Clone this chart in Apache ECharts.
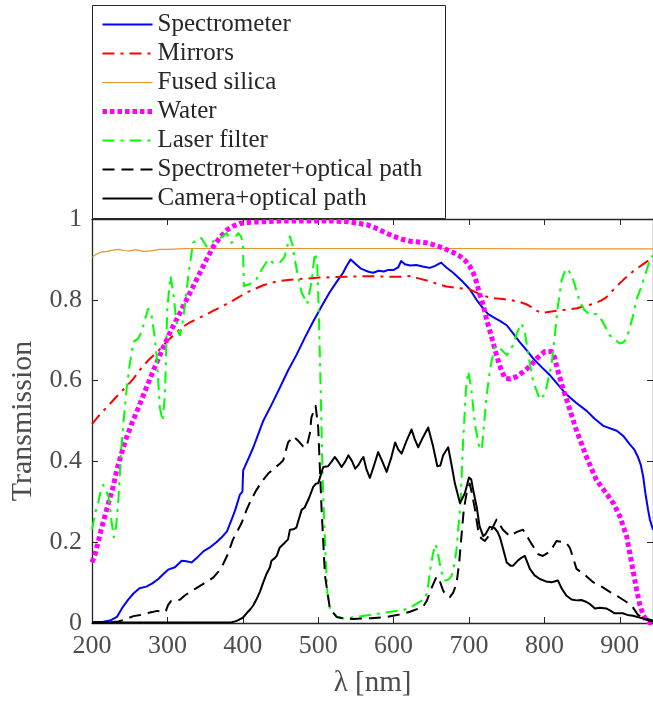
<!DOCTYPE html>
<html>
<head>
<meta charset="utf-8">
<script src="https://cdn.jsdelivr.net/npm/echarts@6/dist/echarts.min.js"></script>
<style>
html,body{margin:0;padding:0;background:#fff;}
#chart{width:653px;height:703px;}
</style>
</head>
<body>
<div id="chart"></div>
<script>
// ---- data (wavelength nm, transmission) ----
const seriesNames = ['Spectrometer','Mirrors','Fused silica','Water','Laser filter','Spectrometer+optical path','Camera+optical path'];
const xTickValues = [200,300,400,500,600,700,800,900];
const yTickValues = [0,0.2,0.4,0.6,0.8,1];

const spectrometer = [[200,0.002],[215,0.003],[224,0.006],[233,0.015],[241,0.04],[248,0.058],[255,0.073],[263,0.086],[272,0.09],[280,0.098],[288,0.109],[295,0.122],[301,0.132],[310,0.138],[319,0.154],[325,0.153],[332,0.150],[340,0.163],[348,0.178],[357,0.188],[365,0.200],[372,0.212],[379,0.227],[385,0.255],[390,0.28],[396,0.317],[399.5,0.325],[400.5,0.378],[407,0.405],[414,0.435],[422,0.475],[427,0.50],[438,0.54],[449,0.582],[460,0.625],[471,0.663],[482,0.705],[493,0.745],[504,0.782],[515,0.818],[524,0.843],[533,0.867],[538,0.885],[543,0.900],[550,0.888],[556,0.878],[563,0.872],[568,0.869],[573,0.867],[580,0.872],[587,0.870],[593,0.874],[600,0.874],[606,0.880],[610,0.896],[615,0.888],[622,0.885],[630,0.886],[640,0.882],[648,0.879],[655,0.884],[663,0.892],[670,0.880],[679,0.867],[690,0.848],[701,0.826],[710,0.80],[719,0.778],[725,0.765],[732,0.757],[741,0.748],[750,0.737],[758,0.718],[767,0.696],[776,0.676],[785,0.655],[796,0.634],[807,0.614],[818,0.59],[829,0.566],[842,0.545],[856,0.525],[867,0.505],[878,0.488],[896,0.476],[905,0.462],[913,0.443],[919,0.43],[924,0.411],[928,0.39],[931,0.362],[934,0.32],[937.5,0.28],[940,0.255],[944,0.231]];

const mirrors = [[200,0.492],[210,0.515],[220,0.535],[230,0.555],[240,0.575],[246,0.586],[255,0.605],[265,0.63],[275,0.651],[287,0.672],[299,0.696],[308,0.712],[317,0.729],[328,0.742],[339,0.753],[350,0.762],[361,0.773],[372,0.783],[383,0.794],[394,0.806],[405,0.818],[416,0.827],[427,0.836],[438,0.842],[449,0.847],[460,0.849],[471,0.851],[487,0.853],[502,0.855],[520,0.856],[538,0.857],[555,0.858],[575,0.858],[599,0.857],[610,0.857],[622,0.859],[633,0.853],[644,0.848],[657,0.84],[670,0.833],[685,0.829],[701,0.826],[712,0.816],[723,0.808],[734,0.804],[745,0.802],[756,0.799],[767,0.795],[776,0.789],[785,0.78],[791,0.772],[796,0.767],[805,0.77],[820,0.774],[835,0.777],[843,0.779],[855,0.785],[865,0.790],[875,0.798],[882,0.806],[890,0.822],[896,0.834],[905,0.85],[918,0.871],[930,0.887],[940,0.900],[944,0.904]];

const fusedSilica = [[200,0.905],[205,0.912],[212,0.918],[220,0.92],[228,0.923],[235,0.925],[242,0.922],[250,0.921],[258,0.924],[268,0.92],[278,0.921],[290,0.925],[300,0.925],[315,0.926],[330,0.927],[360,0.927],[400,0.927],[500,0.927],[600,0.927],[700,0.927],[800,0.926],[900,0.926],[944,0.926]];

const water = [[200,0.15],[204,0.17],[208,0.199],[212,0.23],[217,0.264],[222,0.298],[228,0.337],[233,0.38],[239,0.419],[245,0.455],[252,0.49],[262,0.535],[272,0.582],[283,0.632],[294,0.68],[305,0.725],[317,0.769],[328,0.81],[339,0.851],[350,0.893],[361,0.932],[370,0.955],[379,0.973],[388,0.983],[396,0.989],[410,0.992],[427,0.993],[450,0.995],[471,0.995],[500,0.995],[520,0.995],[540,0.993],[555,0.989],[566,0.985],[577,0.977],[588,0.967],[600,0.957],[611,0.95],[622,0.945],[633,0.943],[644,0.941],[655,0.935],[666,0.928],[677,0.919],[688,0.908],[695,0.897],[701,0.883],[706,0.865],[710,0.843],[714,0.815],[719,0.786],[723,0.753],[728,0.721],[734,0.68],[740,0.64],[747.5,0.606],[755,0.604],[763,0.61],[772,0.622],[780.6,0.635],[790,0.655],[800.5,0.672],[809.5,0.672],[813,0.66],[818,0.623],[824,0.585],[831.5,0.541],[842.6,0.476],[855.8,0.411],[869,0.354],[882,0.321],[892,0.295],[900,0.264],[909,0.215],[915.5,0.150],[922,0.085],[926.5,0.045],[931,0.02],[935,0.007],[940,0.0],[944,0.0]];

const laserFilter = [[200,0.231],[204,0.27],[208,0.297],[212,0.33],[215,0.342],[218,0.33],[222,0.313],[226,0.25],[229,0.212],[232,0.24],[235,0.305],[239,0.435],[241.5,0.492],[246,0.58],[250,0.64],[255,0.696],[261,0.704],[266,0.721],[270,0.75],[274.6,0.778],[279,0.761],[283,0.71],[286,0.655],[290,0.533],[293.7,0.50],[296.8,0.566],[299.8,0.778],[304,0.859],[307.8,0.818],[311,0.76],[314.4,0.721],[316.7,0.712],[321,0.753],[327.7,0.859],[334,0.941],[340,0.95],[345,0.953],[352,0.932],[361,0.945],[370,0.953],[378.6,0.965],[385,0.941],[390,0.955],[394,0.965],[398,0.955],[400,0.94],[401.5,0.834],[409.5,0.839],[418,0.851],[425,0.875],[433.7,0.900],[440,0.892],[449,0.892],[455,0.905],[458,0.924],[462.5,0.957],[466,0.935],[469,0.900],[474,0.85],[478,0.818],[485.5,0.790],[491,0.843],[495.6,0.916],[498.7,0.892],[501,0.753],[503,0.598],[505.8,0.362],[509,0.199],[512,0.077],[515,0.04],[518,0.028],[525,0.015],[533,0.011],[550,0.015],[568.5,0.020],[590,0.026],[612.7,0.032],[622,0.038],[630.5,0.048],[641.5,0.060],[645,0.08],[648,0.125],[652,0.17],[655.6,0.195],[658,0.18],[661,0.150],[665,0.115],[668,0.105],[673,0.108],[677,0.117],[681,0.15],[683.5,0.183],[686,0.24],[688.8,0.297],[692,0.443],[696,0.58],[699,0.623],[703,0.58],[708,0.49],[714,0.431],[717,0.43],[723,0.557],[728,0.63],[734,0.684],[741,0.68],[750,0.663],[758.5,0.688],[764,0.72],[769.6,0.741],[774,0.72],[779,0.66],[785,0.598],[794,0.553],[800.5,0.566],[809.5,0.639],[818,0.786],[823,0.85],[828.4,0.877],[833,0.87],[838,0.851],[847,0.795],[853,0.775],[860,0.763],[869,0.765],[876,0.75],[886.7,0.712],[900,0.692],[905,0.695],[909,0.704],[913,0.73],[917.6,0.761],[922,0.80],[928.8,0.834],[935,0.87],[940,0.900],[944,0.91]];

const specOptical = [[200,0.0],[215,0.001],[226,0.002],[235,0.004],[241.5,0.007],[248,0.012],[255,0.017],[264,0.02],[272.6,0.024],[280,0.027],[286,0.03],[290,0.029],[294.5,0.026],[298,0.03],[301,0.045],[305,0.055],[312,0.056],[317,0.058],[323,0.068],[330,0.077],[339,0.087],[347.6,0.097],[355,0.105],[361,0.113],[368,0.128],[374,0.146],[380,0.17],[387,0.207],[393,0.228],[398.5,0.248],[405,0.280],[411,0.305],[418,0.329],[426,0.352],[433.7,0.370],[441,0.382],[449,0.394],[453.6,0.403],[460,0.447],[467,0.462],[473,0.452],[480,0.437],[484.6,0.435],[489,0.47],[491,0.509],[496.6,0.537],[500,0.484],[504.5,0.280],[509,0.117],[515.5,0.036],[524.4,0.015],[535,0.011],[546,0.010],[570,0.012],[590.7,0.015],[610,0.022],[621.6,0.028],[632,0.035],[639,0.040],[644,0.055],[650,0.085],[657,0.115],[661,0.105],[665.7,0.08],[670,0.068],[674.6,0.064],[679,0.075],[683.5,0.098],[687,0.15],[690,0.215],[693,0.28],[696.8,0.321],[701,0.345],[704,0.32],[708,0.28],[712,0.231],[716,0.21],[721,0.203],[726,0.215],[730,0.231],[736.5,0.256],[741,0.243],[745,0.231],[754,0.215],[763,0.225],[771.6,0.231],[776,0.218],[780.6,0.203],[791.7,0.170],[798,0.166],[805,0.174],[809.5,0.183],[816,0.203],[829,0.199],[834,0.185],[842.6,0.134],[853,0.12],[864.6,0.101],[876,0.09],[886.7,0.077],[898,0.065],[909,0.052],[917.6,0.038],[924,0.020],[931,0.013],[942,0.007],[944,0.005]];

const cameraOptical = [[200,0.001],[300,0.001],[385,0.002],[390,0.004],[394,0.007],[400,0.013],[405,0.024],[410,0.034],[414,0.044],[418,0.058],[422.7,0.077],[427,0.1],[431.6,0.122],[436,0.138],[438,0.154],[442,0.16],[445,0.166],[449,0.187],[453.6,0.195],[456,0.196],[460,0.207],[462.5,0.231],[467,0.232],[471,0.236],[473.5,0.252],[478,0.280],[482,0.286],[484.6,0.289],[488,0.31],[493.4,0.337],[497,0.345],[500,0.346],[502,0.358],[506.7,0.386],[509,0.386],[513,0.388],[518,0.40],[522,0.411],[527,0.398],[531,0.386],[536,0.40],[540,0.415],[545,0.40],[549,0.382],[553,0.39],[557.5,0.405],[560,0.411],[564,0.38],[568.5,0.359],[574,0.39],[579.5,0.423],[585,0.40],[590.7,0.374],[597,0.41],[602,0.447],[606,0.43],[610.6,0.419],[617,0.45],[623.8,0.479],[628,0.455],[632.6,0.435],[639,0.46],[645.9,0.484],[652,0.44],[658,0.388],[662,0.39],[665.7,0.415],[672.4,0.435],[677,0.39],[681.3,0.345],[688,0.297],[694.5,0.321],[700,0.36],[703,0.355],[706.4,0.321],[710,0.289],[714,0.24],[718.8,0.215],[722,0.22],[727.6,0.238],[734,0.235],[738,0.225],[741,0.212],[745,0.185],[750,0.150],[755,0.142],[758.5,0.142],[765,0.155],[770,0.162],[774,0.166],[780.7,0.134],[787,0.118],[794,0.109],[802,0.103],[809.5,0.101],[818,0.105],[823,0.085],[829,0.068],[836,0.058],[842.6,0.056],[849,0.057],[855.8,0.052],[861,0.046],[867,0.036],[874,0.038],[882,0.036],[888,0.03],[893,0.024],[904,0.024],[910,0.02],[917.6,0.018],[925,0.014],[931,0.011],[940,0.005],[944,0.004]];

// ---- chart ----
const FONT = '"Liberation Serif", "Times New Roman", serif';
const AXIS_COLOR = '#262626';
const LABEL_COLOR = '#4d4d4d';
const X_MIN = 200, X_MAX = 944;

const styles = [
  {color: '#0000ff', width: 2, type: 'solid'},
  {color: '#ff0000', width: 2, type: [12, 6, 3, 6]},
  {color: '#e8942f', width: 1.2, type: 'solid'},
  {color: '#ff00ff', width: 5, type: [4.5, 3]},
  {color: '#00ff00', width: 2, type: [12, 6, 3, 6]},
  {color: '#000000', width: 2, type: [12, 7]},
  {color: '#000000', width: 2, type: 'solid'}
];
const seriesData = [spectrometer, mirrors, fusedSilica, water, laserFilter, specOptical, cameraOptical];

const chart = echarts.init(document.getElementById('chart'), null, {renderer: 'canvas'});

const legendText = {fontFamily: FONT, fontSize: 25, color: AXIS_COLOR, lineHeight: 24};

const series = seriesNames.map((name, i) => ({
  name: name, type: 'line', data: seriesData[i], showSymbol: false, symbol: 'none',
  xAxisIndex: 0, yAxisIndex: 0, clip: true,
  lineStyle: {color: styles[i].color, width: styles[i].width, type: styles[i].type, cap: 'butt', join: 'round'},
  itemStyle: {color: styles[i].color},
  emphasis: {disabled: true}, animation: false
}));

chart.setOption({
  animation: false,
  backgroundColor: '#fff',
  grid: {left: 92, top: 219, width: 561, height: 409},
  graphic: [{
    type: 'rect', left: 92, top: 5, z: 90,
    shape: {width: 353, height: 213},
    style: {fill: '#fff', stroke: AXIS_COLOR, lineWidth: 1}
  }],
  legend: {
    orient: 'vertical', left: 92, top: 5, z: 100,
    padding: [7, 8, 6, 8],
    itemWidth: 50, itemHeight: 14, itemGap: 4,
    itemStyle: {color: 'rgba(0,0,0,0)', borderWidth: 0, opacity: 0},
    textStyle: legendText,
    data: seriesNames.map((name, i) => ({
      name: name,
      textStyle: legendText,
      lineStyle: {color: styles[i].color, width: styles[i].width, type: styles[i].type}
    })),
    selectedMode: false
  },
  xAxis: [{
    type: 'value', min: X_MIN, max: X_MAX, interval: 100, position: 'bottom',
    name: 'λ [nm]', nameLocation: 'middle', nameGap: 46,
    nameTextStyle: {fontFamily: FONT, fontSize: 29, color: LABEL_COLOR},
    axisLine: {show: true, onZero: false, lineStyle: {color: AXIS_COLOR, width: 1.3}},
    axisTick: {show: true, inside: true, length: 6, lineStyle: {color: AXIS_COLOR, width: 1}},
    axisLabel: {margin: 10, fontFamily: FONT, fontSize: 26, color: LABEL_COLOR, showMaxLabel: false,
      formatter: v => xTickValues.includes(v) ? String(v) : ''},
    splitLine: {show: false}
  }, {
    type: 'value', min: X_MIN, max: X_MAX, interval: 100, position: 'top',
    axisLine: {show: true, onZero: false, lineStyle: {color: AXIS_COLOR, width: 1.3}},
    axisTick: {show: true, inside: true, length: 6, lineStyle: {color: AXIS_COLOR, width: 1}},
    axisLabel: {show: false}, splitLine: {show: false}
  }],
  yAxis: [{
    type: 'value', min: 0, max: 1, interval: 0.2, position: 'left',
    name: 'Transmission', nameLocation: 'middle', nameGap: 54,
    nameTextStyle: {fontFamily: FONT, fontSize: 30, color: LABEL_COLOR},
    axisLine: {show: true, onZero: false, lineStyle: {color: AXIS_COLOR, width: 1.3}},
    axisTick: {show: true, inside: true, length: 6, lineStyle: {color: AXIS_COLOR, width: 1}},
    axisLabel: {margin: 10, fontFamily: FONT, fontSize: 26, color: LABEL_COLOR,
      formatter: v => { const t = yTickValues.find(y => Math.abs(y - v) < 1e-6); return t === undefined ? '' : String(t); }},
    splitLine: {show: false}
  }, {
    type: 'value', min: 0, max: 1, interval: 0.2, position: 'right',
    axisLine: {show: true, onZero: false, lineStyle: {color: AXIS_COLOR, width: 1.3}},
    axisTick: {show: true, inside: true, length: 6, lineStyle: {color: AXIS_COLOR, width: 1}},
    axisLabel: {show: false}, splitLine: {show: false}
  }],
  series: series
});
</script>
</body>
</html>
